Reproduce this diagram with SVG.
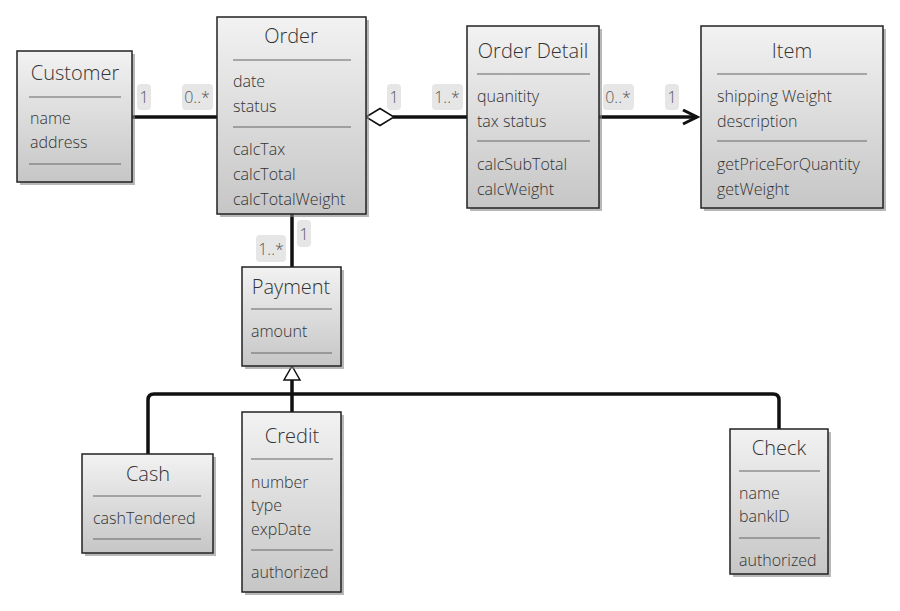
<svg xmlns="http://www.w3.org/2000/svg" width="900" height="611" viewBox="0 0 900 611">
<defs>
<linearGradient id="g" x1="0" y1="0" x2="0" y2="1">
<stop offset="0" stop-color="#f2f2f2"/>
<stop offset="1" stop-color="#c6c6c6"/>
</linearGradient>
<marker id="open" markerWidth="18" markerHeight="18" refX="15" refY="8" orient="auto" markerUnits="userSpaceOnUse">
<path d="M1,1 L15,8 L1,15" fill="none" stroke="#111" stroke-width="3"/>
</marker>
</defs>
<style>
.box{fill:url(#g);stroke:#222;stroke-width:1.5}
.sh{fill:#888;opacity:0.6}
.sep{stroke:#666;stroke-width:1.2}
.t{font-family:"Open Sans","DejaVu Sans",sans-serif;font-weight:300;font-size:20px;fill:#333;text-anchor:middle}
.a{font-family:"Open Sans","DejaVu Sans",sans-serif;font-weight:300;font-size:16px;fill:#333}
.lb{fill:#e6e6e6}
.l{font-family:"Open Sans","DejaVu Sans",sans-serif;font-weight:300;font-size:16px;fill:#555;text-anchor:middle}
.c{fill:none;stroke:#111;stroke-width:3.5}
</style>
<g id="connectors">
<line class="c" x1="132" y1="117" x2="217" y2="117"/>
<rect class="lb" x="137" y="84" width="14" height="26" rx="4"/><text class="l" x="144" y="103">1</text>
<rect class="lb" x="182" y="84" width="31" height="26" rx="4"/><text class="l" x="197" y="103">0..*</text>
<line class="c" x1="393" y1="117" x2="467" y2="117"/>
<path d="M366,117 L380,108.5 L394,117 L380,125.5 Z" fill="#fff" stroke="#111" stroke-width="1.5"/>
<rect class="lb" x="387" y="84" width="14" height="26" rx="4"/><text class="l" x="394" y="103">1</text>
<rect class="lb" x="432" y="84" width="31" height="26" rx="4"/><text class="l" x="447" y="103">1..*</text>
<line class="c" x1="599" y1="117" x2="697" y2="117" marker-end="url(#open)"/>
<rect class="lb" x="603" y="84" width="31" height="26" rx="4"/><text class="l" x="618" y="103">0..*</text>
<rect class="lb" x="665" y="84" width="14" height="26" rx="4"/><text class="l" x="672" y="103">1</text>
<line class="c" x1="292" y1="214" x2="292" y2="267"/>
<rect class="lb" x="256" y="235" width="30" height="27" rx="4"/><text class="l" x="271" y="255">1..*</text>
<rect class="lb" x="297" y="220" width="14" height="27" rx="4"/><text class="l" x="304" y="240">1</text>
<path class="c" d="M148,454 L148,400 Q148,394 154,394 L773,394 Q779,394 779,400 L779,429"/>
<line class="c" x1="292" y1="380" x2="292" y2="412"/>
<path d="M292,366 L300,380 L284,380 Z" fill="#fff" stroke="#111" stroke-width="1.5"/>
</g>
<g id="customer">
<rect class="sh" x="20" y="54" width="115" height="131"/>
<rect class="box" x="17" y="51" width="115" height="131"/>
<text class="t" x="75" y="80">Customer</text>
<line class="sep" x1="29" y1="97" x2="121" y2="97"/>
<text class="a" x="30" y="124">name</text>
<text class="a" x="30" y="148">address</text>
<line class="sep" x1="29" y1="164" x2="121" y2="164"/>
</g>
<g id="order">
<rect class="sh" x="220" y="20" width="149" height="197"/>
<rect class="box" x="217" y="17" width="149" height="197"/>
<text class="t" x="291" y="43">Order</text>
<line class="sep" x1="233" y1="60" x2="351" y2="60"/>
<text class="a" x="233" y="87">date</text>
<text class="a" x="233" y="112">status</text>
<line class="sep" x1="233" y1="127" x2="351" y2="127"/>
<text class="a" x="233" y="155">calcTax</text>
<text class="a" x="233" y="180">calcTotal</text>
<text class="a" x="233" y="205">calcTotalWeight</text>
</g>
<g id="orderdetail">
<rect class="sh" x="470" y="29" width="132" height="182"/>
<rect class="box" x="467" y="26" width="132" height="182"/>
<text class="t" x="533" y="58">Order Detail</text>
<line class="sep" x1="477" y1="74" x2="590" y2="74"/>
<text class="a" x="477" y="102">quanitity</text>
<text class="a" x="477" y="127">tax status</text>
<line class="sep" x1="477" y1="141" x2="590" y2="141"/>
<text class="a" x="477" y="170">calcSubTotal</text>
<text class="a" x="477" y="195">calcWeight</text>
</g>
<g id="item">
<rect class="sh" x="704" y="29" width="182" height="182"/>
<rect class="box" x="701" y="26" width="182" height="182"/>
<text class="t" x="792" y="58">Item</text>
<line class="sep" x1="717" y1="74" x2="867" y2="74"/>
<text class="a" x="717" y="102">shipping Weight</text>
<text class="a" x="717" y="127">description</text>
<line class="sep" x1="717" y1="141" x2="867" y2="141"/>
<text class="a" x="717" y="170">getPriceForQuantity</text>
<text class="a" x="717" y="195">getWeight</text>
</g>
<g id="payment">
<rect class="sh" x="245" y="270" width="99" height="99"/>
<rect class="box" x="242" y="267" width="99" height="99"/>
<text class="t" x="291" y="294">Payment</text>
<line class="sep" x1="251" y1="309" x2="332" y2="309"/>
<text class="a" x="251" y="337">amount</text>
<line class="sep" x1="251" y1="353" x2="332" y2="353"/>
</g>
<g id="cash">
<rect class="sh" x="85" y="457" width="131" height="99"/>
<rect class="box" x="82" y="454" width="131" height="99"/>
<text class="t" x="148" y="481">Cash</text>
<line class="sep" x1="93" y1="496" x2="201" y2="496"/>
<text class="a" x="93" y="524">cashTendered</text>
<line class="sep" x1="93" y1="539" x2="201" y2="539"/>
</g>
<g id="credit">
<rect class="sh" x="245" y="415" width="99" height="180"/>
<rect class="box" x="242" y="412" width="99" height="180"/>
<text class="t" x="292" y="443">Credit</text>
<line class="sep" x1="251" y1="459" x2="333" y2="459"/>
<text class="a" x="251" y="488">number</text>
<text class="a" x="251" y="511">type</text>
<text class="a" x="251" y="535">expDate</text>
<line class="sep" x1="251" y1="550" x2="333" y2="550"/>
<text class="a" x="251" y="578">authorized</text>
</g>
<g id="check">
<rect class="sh" x="733" y="432" width="98" height="145"/>
<rect class="box" x="730" y="429" width="98" height="145"/>
<text class="t" x="779" y="455">Check</text>
<line class="sep" x1="739" y1="471" x2="820" y2="471"/>
<text class="a" x="739" y="499">name</text>
<text class="a" x="739" y="522">bankID</text>
<line class="sep" x1="739" y1="538" x2="820" y2="538"/>
<text class="a" x="739" y="566">authorized</text>
</g>
</svg>
